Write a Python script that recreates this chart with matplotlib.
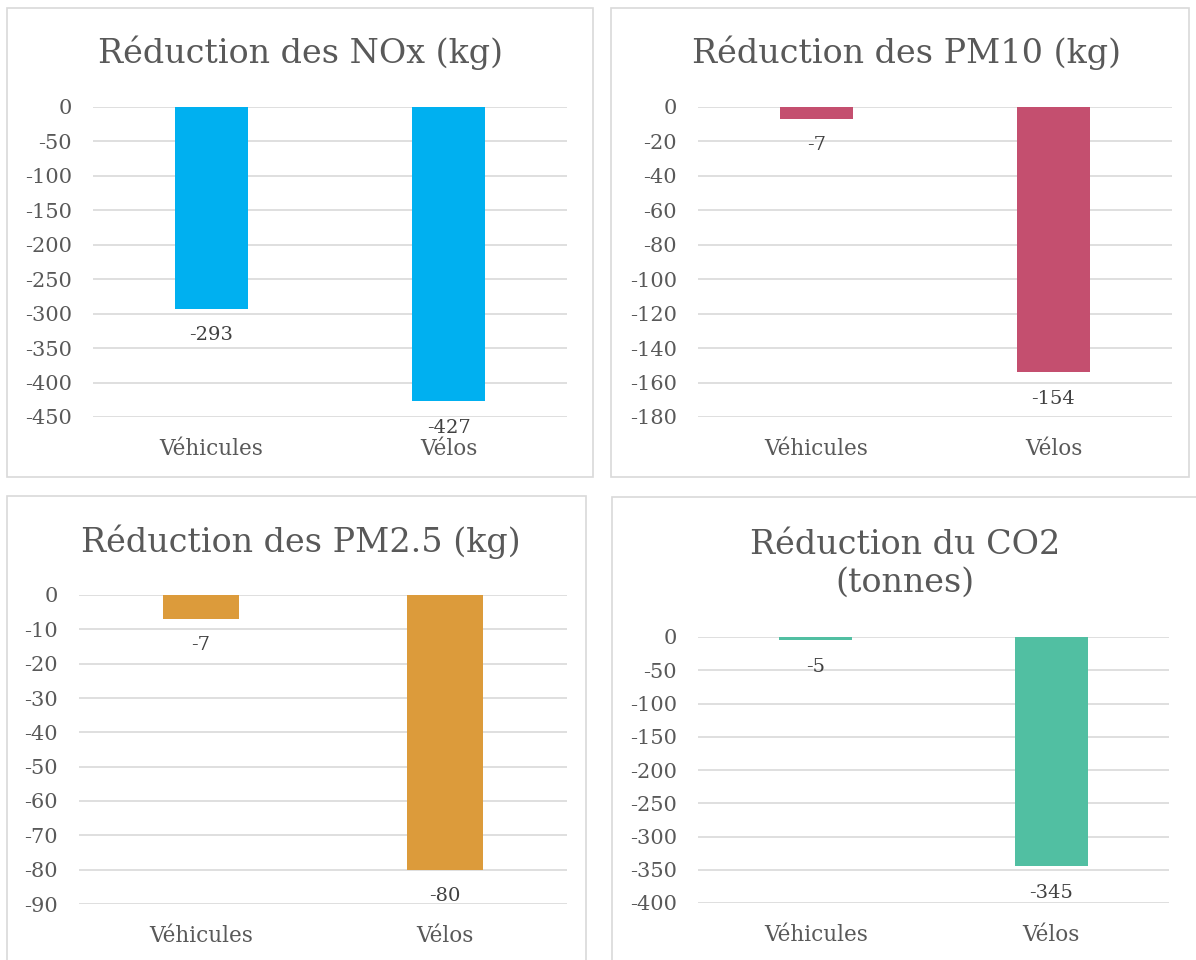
import matplotlib.pyplot as plt
from matplotlib.patches import Rectangle

categories = ["Véhicules", "Vélos"]

titles = ["Réduction des NOx (kg)", "Réduction des PM10 (kg)",
          "Réduction des PM2.5 (kg)", "Réduction du CO2\n(tonnes)"]
nox = [-293, -427]
pm10 = [-7, -154]
pm25 = [-7, -80]
co2 = [-5, -345]
series = [nox, pm10, pm25, co2]
colors = ["#00B0F0", "#C44F6F", "#DC9B3B", "#51BFA2"]
ticks = [list(range(0, -451, -50)), list(range(0, -181, -20)),
         list(range(0, -91, -10)), list(range(0, -401, -50))]

plt.rcParams['font.family'] = ['DejaVu Serif']
plt.rcParams['axes.unicode_minus'] = False

W, H = 1196, 960
fig = plt.figure(figsize=(W / 100, H / 100), dpi=100)

def fx(x):
    return x / W

def fy(y):
    return (H - y) / H

# axes boxes in pixels: left, right, top, bottom
boxes = [(93, 567, 107, 417), (698, 1172, 107, 417),
         (79, 567, 595, 904), (698, 1169, 637, 903)]
# panel frames in pixels: left, right, top, bottom
frames = [(7, 593, 8, 477), (611, 1189, 8, 477),
          (7, 586, 496, 963), (612, 1199, 497, 963)]
title_pos = [(301, 53), (906, 53), (301, 542), (905, 564)]

txt = "#595959"
for i in range(4):
    l, r, t, b = frames[i]
    fig.patches.append(Rectangle((fx(l), fy(b)), fx(r - l), (b - t) / H,
                                 transform=fig.transFigure, fill=False,
                                 edgecolor="#d9d9d9", lw=1.2))
    l, r, t, b = boxes[i]
    ax = fig.add_axes([fx(l), fy(b), fx(r - l), (b - t) / H])
    vals = series[i]
    x = range(len(categories))
    ax.bar(x, vals, width=0.31, color=colors[i], zorder=3)
    ax.set_xlim(-0.5, 1.5)
    ax.set_ylim(ticks[i][-1], 0)
    ax.set_yticks(ticks[i])
    ax.set_xticks(list(x))
    ax.set_xticklabels(categories)
    ax.yaxis.grid(True, color="#d9d9d9", lw=1.2, zorder=0)
    ax.set_axisbelow(True)
    for s in ax.spines.values():
        s.set_visible(False)
    ax.tick_params(axis='y', length=0, pad=15, labelsize=15, labelcolor=txt)
    ax.tick_params(axis='x', length=0, pad=15, labelsize=15.5, labelcolor=txt)
    for xi, v in zip(x, vals):
        ax.annotate(str(v), (xi, v), xytext=(0, -19), textcoords="offset points",
                    ha="center", va="center", fontsize=14, color="#404040",
                    annotation_clip=False)
    tx, ty = title_pos[i]
    fig.text(fx(tx), fy(ty), titles[i], ha="center", va="center",
             fontsize=24, color=txt, linespacing=1.25)

fig.savefig("out.png", dpi=100)
